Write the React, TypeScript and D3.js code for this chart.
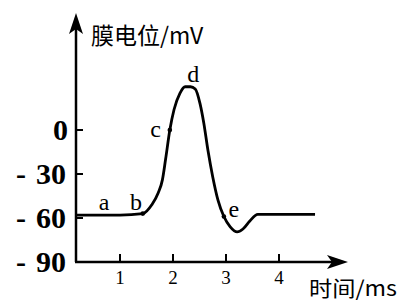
import React from 'react';
import * as d3 from 'd3';

// membrane potential trace (time in ms, potential in mV)
const timeMs = [0.17, 1.0, 1.43, 1.6, 1.72, 1.8, 1.86, 1.94, 2.02, 2.13, 2.23, 2.33, 2.42, 2.51, 2.58, 2.66, 2.75, 2.85, 2.96, 3.08, 3.21, 3.32, 3.45, 3.6, 4.0, 4.68];
const potential = [-58, -58, -57, -51, -43, -34, -20, 0, 14, 25, 29.5, 29.5, 28, 18, 5, -14, -32, -48, -59, -66, -69.5, -67.5, -62, -57.5, -57.5, -57.5];

const xTicks = [1, 2, 3, 4];
const yTicks = [0, -30, -60, -90];

const pointNames = ['a', 'b', 'c', 'd', 'e'];
const pointT = [0.7, 1.3, 1.67, 2.38, 3.15];
const pointV = [-54.5, -54.5, -5, 33, -59];
const markT = [1.43, 1.94, 2.96];
const markV = [-57, 0, -59];

const W = 407;
const H = 308;
const axisX = 76;

export default function App() {
  const x = d3.scaleLinear().domain([0, 4]).range([67, 279]);
  const y = d3.scaleLinear().domain([-90, 0]).range([262, 130]);
  const y0 = y(-90);

  const line = d3
    .line<number>()
    .x((_, i) => x(timeMs[i]))
    .y((d) => y(d))
    .curve(d3.curveMonotoneX);

  const serif = '"Liberation Serif", "Times New Roman", serif';
  const cjk = '"Noto Sans CJK SC", "Noto Sans", sans-serif';

  return (
    <svg width={W} height={H} style={{ position: 'absolute', left: 0, top: 0, background: '#fff' }}>
      {/* y axis + arrow */}
      <line x1={axisX} y1={y0} x2={axisX} y2={26} stroke="#000" strokeWidth={2.5} />
      <path d={`M${axisX},13 L${axisX + 7},34 L${axisX},29 L${axisX - 7},34 Z`} fill="#000" />
      {/* x axis + arrow */}
      <line x1={axisX - 1} y1={y0} x2={336} y2={y0} stroke="#000" strokeWidth={2.5} />
      <path d={`M348,${y0} L327,${y0 - 7} L332,${y0} L327,${y0 + 7} Z`} fill="#000" />

      {yTicks.map((t) => (
        <g key={t} fontFamily={serif} fontWeight="bold" fontSize={30}>
          {t !== -90 && <line x1={axisX} x2={axisX + 7} y1={y(t)} y2={y(t)} stroke="#000" strokeWidth={2} />}
          {t !== 0 && (
            <text x={16} y={y(t) + 10}>
              -
            </text>
          )}
          <text x={t === 0 ? 68 : 66} y={y(t) + 10} textAnchor="end">
            {Math.abs(t)}
          </text>
        </g>
      ))}

      {xTicks.map((t) => (
        <g key={t}>
          <line x1={x(t)} x2={x(t)} y1={y0} y2={y0 - 8} stroke="#000" strokeWidth={2} />
          <text x={x(t)} y={y0 + 22} textAnchor="middle" fontFamily={serif} fontSize={19}>
            {t}
          </text>
        </g>
      ))}

      <text x={91} y={44} fontFamily={cjk} fontSize={23}>
        膜电位/mV
      </text>
      <text x={309} y={296} fontFamily={cjk} fontSize={21} textLength={88} lengthAdjust="spacingAndGlyphs">
        时间/ms
      </text>

      <path d={line(potential) || ''} fill="none" stroke="#000" strokeWidth={2.8} strokeLinejoin="round" />

      {markT.map((t, i) => (
        <circle key={i} cx={x(t)} cy={y(markV[i])} r={2.3} fill="#000" />
      ))}

      {pointNames.map((n, i) => (
        <text key={n} x={x(pointT[i])} y={y(pointV[i])} textAnchor="middle" fontFamily={serif} fontSize={24}>
          {n}
        </text>
      ))}
    </svg>
  );
}
